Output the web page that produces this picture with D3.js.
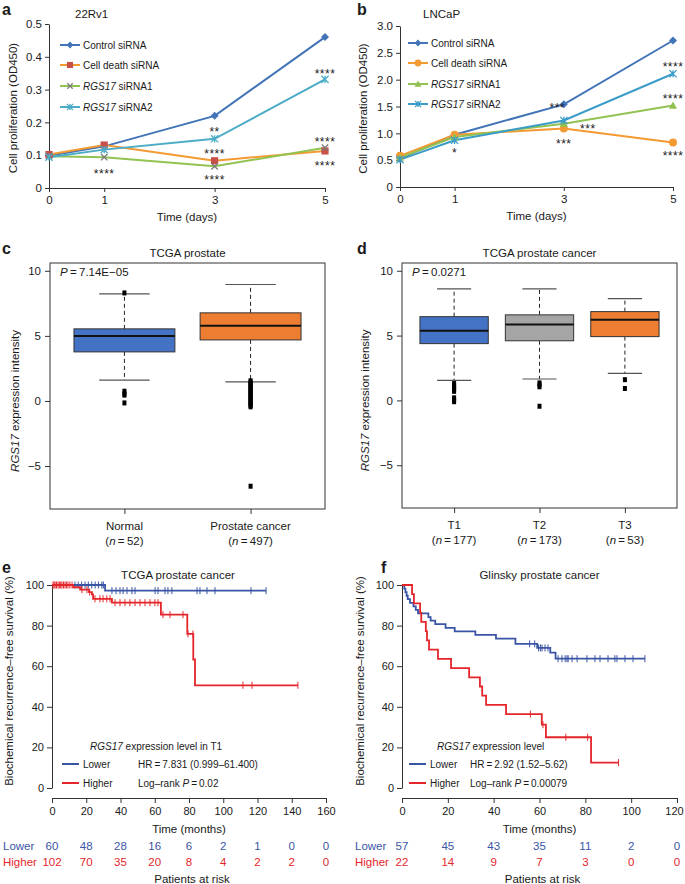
<!DOCTYPE html>
<html>
<head>
  <meta charset="utf-8">
  <script src="https://cdn.jsdelivr.net/npm/d3@7"></script>
  <style>
    body { margin: 0; background: #fff; }
    svg { display: block; }
    text {
      font-family: "Liberation Sans", Arial, sans-serif;
      fill: #1a1a1a;
    }
    .tick text { font-size: 11.5px; fill: #1a1a1a; }
    .km .tick text { font-size: 11px; }
    .tick line, .domain { stroke: #333; }
    text.panel { font-size: 16px; font-weight: 700; }
    text.title { font-size: 11.5px; }
    text.axisLabel { font-size: 11.5px; }
    text.legend { font-size: 10px; }
    text.stars { font-size: 12px; letter-spacing: 0.5px; }
  </style>
</head>
<body>
  <svg width="685" height="884"></svg>
  <script>
    const svg = d3.select("svg");

    // ---------- data: panels a & b (proliferation) ----------
    const days = [0, 1, 3, 5];
    const seriesNames = ["Control siRNA", "Cell death siRNA", "RGS17 siRNA1", "RGS17 siRNA2"];
    const a_control = [0.098, 0.127, 0.220, 0.460];
    const a_death = [0.102, 0.131, 0.083, 0.113];
    const a_si1 = [0.097, 0.094, 0.066, 0.123];
    const a_si2 = [0.094, 0.117, 0.150, 0.331];
    const a_ticks = [0, 0.1, 0.2, 0.3, 0.4, 0.5];
    // [day, value, label]
    const a_stars = [[1, 0.052, "****"], [3, 0.18, "**"], [3, 0.113, "****"], [3, 0.034, "****"],
                     [5, 0.357, "****"], [5, 0.149, "****"], [5, 0.076, "****"]];

    const b_control = [0.53, 0.975, 1.54, 2.73];
    const b_death = [0.58, 0.975, 1.09, 0.83];
    const b_si1 = [0.55, 0.93, 1.18, 1.52];
    const b_si2 = [0.51, 0.87, 1.24, 2.11];
    const b_ticks = [0, 0.5, 1, 1.5, 2, 2.5, 3];
    const b_stars = [[1, 0.69, "*"], [2.88, 1.53, "***"], [3.44, 1.14, "***"], [3, 0.86, "***"],
                     [5, 2.29, "****"], [5, 1.69, "****"], [5, 0.63, "****"]];

    // ---------- data: panels c & d (box plots) ----------
    const box_ticks = [-5, 0, 5, 10];
    const c_groups = ["Normal", "Prostate cancer"];
    const c_n = [52, 497];
    // [lower whisker, q1, median, q3, upper whisker]
    const c_stats = [[1.6, 3.77, 5.0, 5.54, 8.23], [1.46, 4.69, 5.77, 6.77, 8.95]];
    const c_outliers = [[8.3, 0.75, 0.55, 0.45, -0.15],
      [1.55, 1.45, 1.35, 1.25, 1.15, 1.05, 0.95, 0.85, 0.75, 0.65, 0.55, 0.45, 0.35, 0.25,
       0.15, 0.05, -0.05, -0.15, -0.25, -0.35, -0.45, -6.55]];
    const c_colors = ["#4472c4", "#ed7d31"];

    const d_groups = ["T1", "T2", "T3"];
    const d_n = [177, 173, 53];
    const d_stats = [[1.54, 4.38, 5.38, 6.46, 8.6], [1.65, 4.6, 5.85, 6.6, 8.6], [2.08, 4.92, 6.23, 6.85, 7.85]];
    const d_outliers = [[1.3, 1.15, 1.0, 0.85, 0.7, 0.2, 0.05, -0.1], [1.35, 1.2, 1.05, -0.45], [1.6, 0.92]];
    const d_colors = ["#4472c4", "#a5a5a5", "#ed7d31"];

    // ---------- data: panels e & f (Kaplan-Meier) ----------
    const km_ticks_y = [0, 20, 40, 60, 80, 100];
    const e_times = [0, 20, 40, 60, 80, 100, 120, 140, 160];
    const e_lower = [[0, 100], [31, 97.2]];
    const e_lower_end = 125;
    const e_lower_cens = [13.4, 15.3, 17.3, 19.3, 21.2, 23.2, 25.2, 27.1, 29.1, 30, 35, 37.4, 39.7, 41.5,
      43.8, 46.7, 48.5, 60.2, 61.9, 66, 67.7, 70, 84.7, 86.4, 90.5, 95.2, 116.2, 125];
    const e_higher = [[0, 100], [12.4, 98.9], [16.4, 97.7], [21.6, 96.5], [23.3, 95.4], [24, 93.2],
      [35, 91.3], [63.6, 85.4], [79, 75.9], [82.5, 63.3], [83.5, 50.6]];
    const e_higher_end = 143.6;
    const e_higher_cens = [0.6, 1.2, 1.8, 2.6, 3.5, 4.3, 5.1, 5.8, 6.7, 7.6, 8.4, 9.3, 10.4, 11.7, 17.5, 20.4,
      22, 25.1, 28, 29.8, 32, 33.9, 36.8, 39.7, 42.6, 45.5, 48.5, 51.4, 54.3, 57.2, 60.1, 61.9,
      64.8, 68.9, 76.5, 79.4, 82.3, 111.5, 116.8, 143.6];
    const e_risk_lower = [60, 48, 28, 16, 6, 2, 1, 0, 0];
    const e_risk_higher = [102, 70, 35, 20, 8, 4, 2, 2, 0];

    const f_times = [0, 20, 40, 60, 80, 100, 120];
    const f_lower = [[0, 100], [1, 98.2], [1.5, 96.5], [2, 94.7], [2.5, 93], [3.5, 91.2], [5, 89.5],
      [6, 87.7], [7, 86], [11.5, 84.2], [12.5, 82.5], [14.5, 80.7], [19, 78.9], [23, 77.2],
      [32, 75.4], [41, 73.6], [49.5, 71], [59, 69], [64.7, 66.7], [67, 63.7]];
    const f_lower_end = 106;
    const f_lower_cens = [55.7, 57.9, 59.6, 60.4, 61.1, 62.4, 63.7, 68.1, 69.8, 71.2, 72, 72.5, 74.2, 76.4,
      80.7, 84.2, 86.4, 89.9, 92.9, 93.8, 97.3, 100.8, 106];
    const f_higher = [[0, 100], [4.4, 95.5], [5.2, 90.9], [7.9, 86.4], [8.4, 81.8], [10.4, 77.3],
      [10.9, 72.7], [11.8, 68.2], [15.7, 63.6], [21.4, 59.1], [29.3, 54.5], [34, 50], [35, 45.5],
      [36.7, 40.9], [45.4, 36.4], [61, 31.2], [62.8, 25], [82.5, 12.5]];
    const f_higher_end = 94.5;
    const f_higher_cens = [56, 61.5, 71.5, 81, 94.5];
    const f_risk_lower = [57, 45, 43, 35, 11, 2, 0];
    const f_risk_higher = [22, 14, 9, 7, 3, 0, 0];

    const kmBlue = "#3a55a5";
    const kmRed = "#e4262b";

    // ---------- helpers ----------
    function marker(type, r) {
      if (type === "diamond") return `M0,${-r}L${r},0L0,${r}L${-r},0Z`;
      if (type === "square") return `M${-r},${-r}h${2 * r}v${2 * r}h${-2 * r}Z`;
      if (type === "circle") return `M${r},0A${r},${r} 0 1,1 ${-r},0A${r},${r} 0 1,1 ${r},0Z`;
      if (type === "triangle") return `M0,${-r}L${r},${r * 0.8}L${-r},${r * 0.8}Z`;
      if (type === "x") return `M${-r},${-r}L${r},${r}M${-r},${r}L${r},${-r}`;
      // asterisk
      return `M${-r},${-r}L${r},${r}M${-r},${r}L${r},${-r}M0,${-r}L0,${r}`;
    }
    const strokeMarkers = ["x", "asterisk"];

    function label(x, y, txt, cls, anchor) {
      return svg.append("text").attr("class", cls).attr("x", x).attr("y", y)
        .attr("dominant-baseline", "central").style("text-anchor", anchor || "start").text(txt);
    }

    function rgsText(sel, rest) {
      sel.append("tspan").style("font-style", "italic").text("RGS17");
      sel.append("tspan").text(rest);
    }

    function cleanAxis(g) {
      g.select(".domain").attr("stroke", "#333");
      g.selectAll(".tick line").attr("stroke", "#333");
      g.selectAll(".tick text").attr("fill", "#1a1a1a");
    }

    // ---------- line panels ----------
    function linePanel(o) {
      const x = d3.scaleLinear().domain([0, 5]).range(o.xr);
      const y = d3.scaleLinear().domain([0, o.ticks[o.ticks.length - 1]]).range(o.yr);

      svg.append("g").attr("transform", `translate(0,${o.yr[0]})`)
        .call(d3.axisBottom(x).tickValues(days).tickSize(4).tickSizeOuter(0).tickPadding(4)
          .tickFormat(d3.format("d")))
        .call(cleanAxis);
      svg.append("g").attr("transform", `translate(${o.xr[0]},0)`)
        .call(d3.axisLeft(y).tickValues(o.ticks).tickSize(4).tickSizeOuter(0).tickPadding(3)
          .tickFormat(d => d === 0 ? "0" : d3.format(".1f")(d)))
        .call(cleanAxis);

      const line = d3.line().x((d, i) => x(days[i])).y(d => y(d));
      o.series.forEach((s, k) => {
        svg.append("path").datum(s.values).attr("d", line)
          .attr("fill", "none").attr("stroke", s.line).attr("stroke-width", 2);
      });
      o.series.forEach((s, k) => {
        const isStroke = strokeMarkers.includes(s.marker);
        svg.selectAll(null).data(s.values).enter().append("path")
          .attr("transform", (d, i) => `translate(${x(days[i])},${y(d)})`)
          .attr("d", marker(s.marker, s.r))
          .attr("fill", isStroke ? "none" : s.fill)
          .attr("stroke", isStroke ? s.fill : "none")
          .attr("stroke-width", 1.3);
        // legend
        const ly = o.legendY[k];
        svg.append("line").attr("x1", o.legendX).attr("x2", o.legendX + 20)
          .attr("y1", ly).attr("y2", ly).attr("stroke", s.line).attr("stroke-width", 2);
        svg.append("path").attr("transform", `translate(${o.legendX + 10},${ly})`)
          .attr("d", marker(s.marker, s.r * 0.85))
          .attr("fill", isStroke ? "none" : s.fill)
          .attr("stroke", isStroke ? s.fill : "none").attr("stroke-width", 1.2);
        const t = svg.append("text").attr("class", "legend").attr("x", o.legendX + 23).attr("y", ly)
          .attr("dominant-baseline", "central");
        if (seriesNames[k].startsWith("RGS17")) rgsText(t, seriesNames[k].slice(5));
        else t.text(seriesNames[k]);
      });

      // significance stars
      o.stars.forEach(st => {
        svg.append("text").attr("class", "stars").attr("x", x(st[0])).attr("y", y(st[1]) + 7)
          .style("text-anchor", "middle").text(st[2]);
      });

      // axis titles
      label(o.xr[0] + (o.xr[1] - o.xr[0]) / 2, o.yr[0] + 29, "Time (days)", "axisLabel", "middle");
      svg.append("text").attr("class", "axisLabel")
        .attr("transform", `translate(${o.ylabX},${(o.yr[0] + o.yr[1]) / 2 + 2}) rotate(-90)`)
        .attr("dominant-baseline", "central").style("text-anchor", "middle")
        .text("Cell proliferation (OD450)");
      label(o.titleX, 14, o.title, "title");
      label(o.panelX, 9, o.panel, "panel");
    }

    linePanel({
      xr: [49, 325], yr: [188, 24], ticks: a_ticks, stars: a_stars,
      legendX: 60, legendY: [45, 65, 86, 107], ylabX: 13, titleX: 75, title: "22Rv1", panel: "a", panelX: 2,
      series: [
        { values: a_control, line: "#4274b8", fill: "#4274b8", marker: "diamond", r: 4 },
        { values: a_death, line: "#f39a32", fill: "#c8504b", marker: "square", r: 3.6 },
        { values: a_si1, line: "#92c352", fill: "#7a7a7a", marker: "x", r: 3.2 },
        { values: a_si2, line: "#4bacc6", fill: "#4bacc6", marker: "asterisk", r: 3.6 }
      ]
    });

    linePanel({
      xr: [400, 673], yr: [187, 26], ticks: b_ticks, stars: b_stars,
      legendX: 408, legendY: [43, 63, 84, 104], ylabX: 363, titleX: 423, title: "LNCaP", panel: "b", panelX: 357,
      series: [
        { values: b_control, line: "#4274b8", fill: "#4274b8", marker: "diamond", r: 4 },
        { values: b_death, line: "#f39a32", fill: "#f39a32", marker: "circle", r: 4 },
        { values: b_si1, line: "#92c352", fill: "#8fbf4f", marker: "triangle", r: 4 },
        { values: b_si2, line: "#3b9cc8", fill: "#3b9cc8", marker: "asterisk", r: 3.6 }
      ]
    });

    // ---------- box plot panels ----------
    function boxPanel(o) {
      const y = d3.scaleLinear().domain([-8.3, 10.6]).range([o.y1, o.y0]);
      const x = d3.scalePoint().domain(o.groups).range([o.x0, o.x1]).padding(o.pad);
      const bw = x.step() * 0.8;

      svg.append("rect").attr("x", o.x0).attr("y", o.y0).attr("width", o.x1 - o.x0).attr("height", o.y1 - o.y0)
        .attr("fill", "none").attr("stroke", "#333").attr("stroke-width", 1);
      svg.append("g").attr("transform", `translate(${o.x0},0)`)
        .call(d3.axisLeft(y).tickValues(box_ticks).tickSize(5).tickSizeOuter(0).tickPadding(4)
          .tickFormat(d => d < 0 ? "\u2212" + Math.abs(d) : d))
        .call(g => g.select(".domain").remove()).call(cleanAxis);
      svg.append("g").attr("transform", `translate(0,${o.y1})`)
        .call(d3.axisBottom(x).tickSize(5).tickSizeOuter(0).tickFormat(""))
        .call(g => g.select(".domain").remove()).call(cleanAxis);

      o.groups.forEach((gname, i) => {
        const cx = x(gname);
        const s = o.stats[i];
        // dashed whiskers
        svg.append("line").attr("x1", cx).attr("x2", cx).attr("y1", y(s[3])).attr("y2", y(s[4]))
          .attr("stroke", "#222").attr("stroke-dasharray", "4,3");
        svg.append("line").attr("x1", cx).attr("x2", cx).attr("y1", y(s[1])).attr("y2", y(s[0]))
          .attr("stroke", "#222").attr("stroke-dasharray", "4,3");
        [s[0], s[4]].forEach(v => {
          svg.append("line").attr("x1", cx - bw / 4).attr("x2", cx + bw / 4).attr("y1", y(v)).attr("y2", y(v))
            .attr("stroke", "#555").attr("stroke-width", 1.2);
        });
        svg.append("rect").attr("x", cx - bw / 2).attr("y", y(s[3])).attr("width", bw)
          .attr("height", y(s[1]) - y(s[3])).attr("fill", o.colors[i]).attr("stroke", "#333");
        svg.append("line").attr("x1", cx - bw / 2).attr("x2", cx + bw / 2).attr("y1", y(s[2])).attr("y2", y(s[2]))
          .attr("stroke", "#111").attr("stroke-width", 2);
        svg.selectAll(null).data(o.outliers[i]).enter().append("rect")
          .attr("x", cx - 2).attr("y", d => y(d) - 2.5).attr("width", 4).attr("height", 5).attr("fill", "#000");
        // category labels
        label(cx, o.y1 + 17, gname, "axisLabel", "middle");
        const t = label(cx, o.y1 + 32, "", "axisLabel", "middle");
        t.append("tspan").text("(");
        t.append("tspan").style("font-style", "italic").text("n");
        t.append("tspan").text("\u2009=\u2009" + o.n[i] + ")");
      });

      const yl = svg.append("text").attr("class", "axisLabel")
        .attr("transform", `translate(${o.ylabX},${y(0)}) rotate(-90)`)
        .attr("dominant-baseline", "central").style("text-anchor", "middle");
      rgsText(yl, " expression intensity");
      label((o.x0 + o.x1) / 2, o.y0 - 10, o.title, "title", "middle");
      const p = label(o.x0 + 10, o.y0 + 9, "", "title");
      p.append("tspan").style("font-style", "italic").text("P");
      p.append("tspan").text("\u2009=\u2009" + o.p);
      label(o.panelX, o.y0 - 15, o.panel, "panel");
    }

    boxPanel({
      groups: c_groups, n: c_n, stats: c_stats, outliers: c_outliers, colors: c_colors,
      x0: 50, x1: 325, y0: 263, y1: 509, pad: 0.59, ylabX: 15,
      title: "TCGA prostate", p: "7.14E\u221205", panel: "c", panelX: 2
    });
    boxPanel({
      groups: d_groups, n: d_n, stats: d_stats, outliers: d_outliers, colors: d_colors,
      x0: 402, x1: 677, y0: 263, y1: 508, pad: 0.61, ylabX: 365,
      title: "TCGA prostate cancer", p: "0.0271", panel: "d", panelX: 357
    });

    // ---------- Kaplan-Meier panels ----------
    function kmPanel(o) {
      const x = d3.scaleLinear().domain([0, o.times[o.times.length - 1]]).range([o.x0, o.x1]);
      const y = d3.scaleLinear().domain([0, 100]).range([788, 585]);

      svg.append("g").attr("class", "km").attr("transform", `translate(${o.x0},0)`)
        .call(d3.axisLeft(y).tickValues(km_ticks_y).tickSize(5).tickSizeOuter(0).tickPadding(3))
        .call(cleanAxis);
      const xa = svg.append("g").attr("class", "km").attr("transform", "translate(0,798)")
        .call(d3.axisBottom(x).tickValues(o.times).tickSize(5).tickSizeOuter(0).tickPadding(4))
        .call(cleanAxis);
      // keep the last tick label inside the picture
      xa.selectAll(".tick text").filter(d => x(d) > 670).attr("dx", -3);

      const stepLine = d3.line().x(d => x(d[0])).y(d => y(d[1])).curve(d3.curveStepAfter);
      const surv = (steps, t) => {
        let v = steps[0][1];
        steps.forEach(s => { if (s[0] <= t) v = s[1]; });
        return v;
      };
      o.curves.forEach(c => {
        const pts = c.steps.concat([[c.end, c.steps[c.steps.length - 1][1]]]);
        svg.append("path").datum(pts).attr("d", stepLine)
          .attr("fill", "none").attr("stroke", c.color).attr("stroke-width", 1.8);
        svg.selectAll(null).data(c.cens).enter().append("line")
          .attr("x1", d => x(d)).attr("x2", d => x(d))
          .attr("y1", d => y(surv(c.steps, d)) - 3.5).attr("y2", d => y(surv(c.steps, d)) + 3.5)
          .attr("stroke", c.color).attr("stroke-width", 1);
      });

      // legend
      const lt = label(o.legTitleX, 746, "", "legend");
      rgsText(lt, o.legTitle);
      [["Lower", kmBlue, 764], ["Higher", kmRed, 783]].forEach(r => {
        svg.append("line").attr("x1", o.legX).attr("x2", o.legX + 17).attr("y1", r[2]).attr("y2", r[2])
          .attr("stroke", r[1]).attr("stroke-width", 2);
        label(o.legX + 21, r[2], r[0], "legend");
      });
      label(o.statX, 764, o.hr, "legend");
      const lr = label(o.statX, 783, "Log\u2013rank ", "legend");
      lr.append("tspan").style("font-style", "italic").text("P");
      lr.append("tspan").text("\u2009=\u2009" + o.p);

      label((o.x0 + o.x1) / 2, 829, "Time (months)", "axisLabel", "middle");
      label((o.x0 + o.x1) / 2 + 3, 879, "Patients at risk", "axisLabel", "middle");

      // risk table
      [["Lower", o.riskLower, kmBlue, 846], ["Higher", o.riskHigher, kmRed, 862]].forEach(r => {
        label(o.riskX, r[3], r[0], "axisLabel").style("fill", r[2]);
        svg.selectAll(null).data(r[1]).enter().append("text").attr("class", "axisLabel")
          .attr("x", (d, i) => Math.min(x(o.times[i]), 678)).attr("y", r[3]).attr("dominant-baseline", "central")
          .style("text-anchor", "middle").style("fill", r[2]).text(d => d);
      });

      svg.append("text").attr("class", "axisLabel")
        .attr("transform", `translate(${o.ylabX},681) rotate(-90)`)
        .attr("dominant-baseline", "central").style("text-anchor", "middle")
        .text("Biochemical recurrence\u2013free survival (%)");
      label((o.x0 + o.x1) / 2 + o.titleShift, 575, o.title, "title", "middle");
      label(o.panelX, 567, o.panel, "panel");
    }

    kmPanel({
      x0: 52, x1: 326, times: e_times, riskLower: e_risk_lower, riskHigher: e_risk_higher,
      curves: [
        { steps: e_lower, end: e_lower_end, cens: e_lower_cens, color: kmBlue },
        { steps: e_higher, end: e_higher_end, cens: e_higher_cens, color: kmRed }
      ],
      legTitleX: 90, legTitle: " expression level in T1", legX: 62, statX: 138,
      hr: "HR\u2009=\u20097.831 (0.999\u201361.400)", p: "0.02", riskX: 3, ylabX: 9,
      title: "TCGA prostate cancer", titleShift: -11, panel: "e", panelX: 2
    });
    kmPanel({
      x0: 402, x1: 677, times: f_times, riskLower: f_risk_lower, riskHigher: f_risk_higher,
      curves: [
        { steps: f_lower, end: f_lower_end, cens: f_lower_cens, color: kmBlue },
        { steps: f_higher, end: f_higher_end, cens: f_higher_cens, color: kmRed }
      ],
      legTitleX: 437, legTitle: " expression level", legX: 409, statX: 470,
      hr: "HR\u2009=\u20092.92 (1.52\u20135.62)", p: "0.00079", riskX: 355, ylabX: 360,
      title: "Glinsky prostate cancer", titleShift: 0, panel: "f", panelX: 381
    });
  </script>
</body>
</html>
